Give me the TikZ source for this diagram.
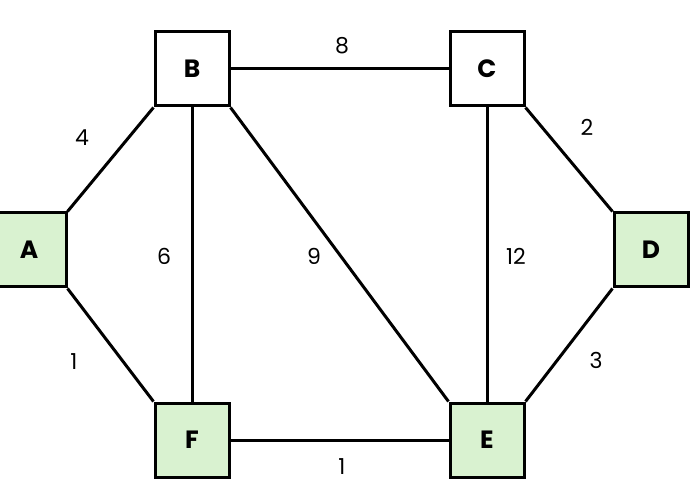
\documentclass[tikz,border=0pt]{standalone}
\usepackage{fontspec}
\setmainfont{Poppins}
\definecolor{nodegreen}{RGB}{217,242,208}

\begin{document}
\begin{tikzpicture}[x=0.5pt, y=-0.5pt,
    vertex/.style={draw, line width=1.5pt, fill=white, minimum size=37pt,
        inner sep=0pt, font=\bfseries\fontsize{12.5}{14}\selectfont},
    goal/.style={vertex, fill=nodegreen},
    link/.style={line width=1.5pt},
    weight/.style={font=\fontsize{11}{13}\selectfont}]

    % Frame of the picture (A and D are cut by it)
    \useasboundingbox (0,0) rectangle (691,502);
    \clip (0,0) rectangle (691,502);

    % Vertices
    \node[goal]   (A) at (29, 250) {A};
    \node[vertex] (B) at (192, 69) {B};
    \node[vertex] (C) at (487, 69) {C};
    \node[goal]   (D) at (651, 250) {D};
    \node[goal]   (E) at (487, 440) {E};
    \node[goal]   (F) at (192, 440) {F};

    % Edges, corner to corner or side to side
    \draw[link] (A.north east) -- (B.south west);
    \draw[link] (A.south east) -- (F.north west);
    \draw[link] (B.east) -- (C.west);
    \draw[link] (B.south) -- (F.north);
    \draw[link] (B.south east) -- (E.north west);
    \draw[link] (C.south) -- (E.north);
    \draw[link] (C.south east) -- (D.north west);
    \draw[link] (D.south west) -- (E.north east);
    \draw[link] (F.east) -- (E.west);

    % Weights
    \node[weight] (wAB) at (82, 138) {4};
    \node[weight] (wAF) at (74, 362) {1};
    \node[weight] (wBC) at (342, 46) {8};
    \node[weight] (wBF) at (164, 256) {6};
    \node[weight] (wBE) at (314, 256) {9};
    \node[weight] (wCE) at (516, 256) {12};
    \node[weight] (wCD) at (587, 127) {2};
    \node[weight] (wDE) at (596, 360) {3};
    \node[weight] (wFE) at (342, 467) {1};

\end{tikzpicture}
\end{document}
